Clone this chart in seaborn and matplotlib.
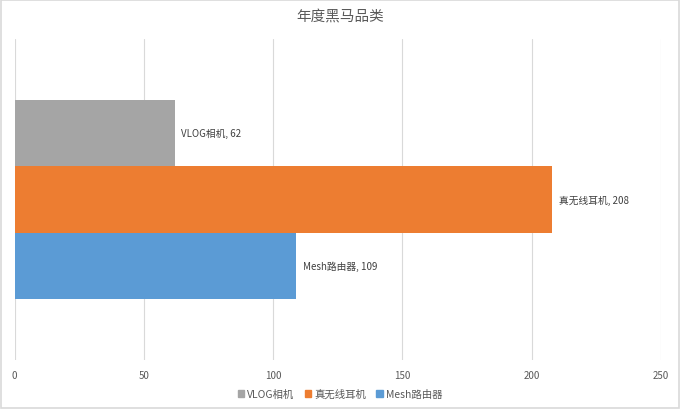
import matplotlib
matplotlib.use("Agg")
import matplotlib.pyplot as plt
import seaborn as sns
import pandas as pd
from matplotlib.patches import Rectangle

title = "年度黑马品类"
series = ["VLOG相机", "真无线耳机", "Mesh路由器"]
values = [62, 208, 109]
colors = ["#a5a5a5", "#ed7d31", "#5b9bd5"]
xticks = [0, 50, 100, 150, 200, 250]

sns.set_theme(style="white")
plt.rcParams["font.family"] = ["Noto Sans CJK SC", "DejaVu Sans"]

df = pd.DataFrame({"cat": ["年度黑马品类"] * 3, "series": series, "value": values})

fig = plt.figure(figsize=(6.8, 4.1), dpi=100)
ax = fig.add_axes([14.7 / 680, 49 / 410, (661 - 14.7) / 680, 321 / 410])

sns.barplot(data=df, x="value", y="cat", hue="series", hue_order=series,
            palette=colors, orient="h", width=0.62, dodge=True, ax=ax,
            saturation=1, legend=True, linewidth=0, edgecolor="none")

ax.set_xlim(0, 250)
ax.set_ylim(0.5, -0.5)
ax.set_xticks(xticks)
ax.set_xticklabels([str(t) for t in xticks], fontsize=7, color="#595959")
ax.tick_params(axis="x", length=0, pad=7)
ax.set_yticks([])
ax.set_xlabel("")
ax.set_ylabel("")
ax.grid(axis="x", color="#d9d9d9", linewidth=0.8)
ax.set_axisbelow(True)
for s in ax.spines.values():
    s.set_visible(False)

for cont, name, v in zip(ax.containers, series, values):
    for bar in cont:
        ax.text(bar.get_width() + 2.4, bar.get_y() + bar.get_height() / 2,
                f"{name}, {v}", va="center", ha="left", fontsize=7, color="#404040")

ax.legend_.remove()
handles = [Rectangle((0, 0), 1, 1, color=c) for c in colors]
fig.legend(handles, series, loc="center", bbox_to_anchor=(0.5, 15 / 410), ncol=3,
           frameon=False, fontsize=7.5, handlelength=0.6, handleheight=0.6,
           handletextpad=0.3, columnspacing=1.0, labelcolor="#595959")

fig.text(0.5, 1 - 18 / 410, title, ha="center", va="center", fontsize=10.5, color="#595959")
fig.patches.append(Rectangle((0.0015, 0.0025), 0.997, 0.995, transform=fig.transFigure,
                             fill=False, edgecolor="#d9d9d9", linewidth=1.2))

fig.savefig("out.png", dpi=100)
